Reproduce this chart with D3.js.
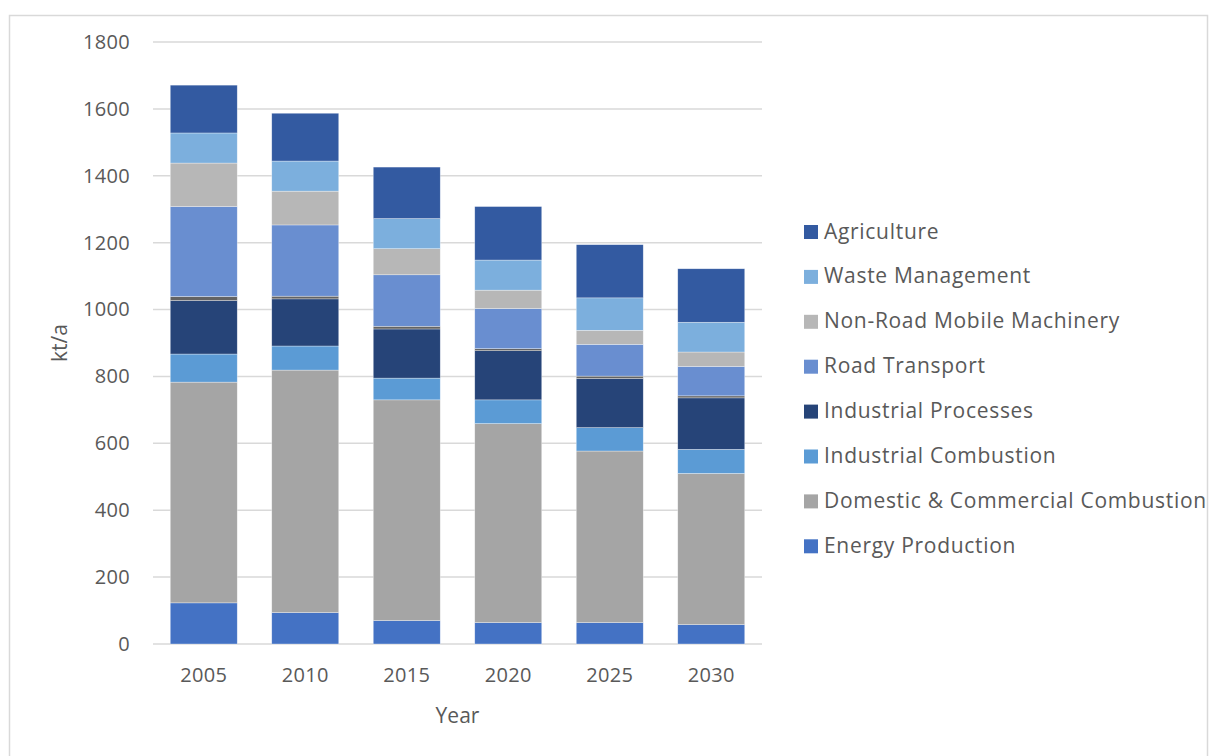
<!DOCTYPE html>
<html>
<head>
<meta charset="utf-8">
<script src="https://cdn.jsdelivr.net/npm/d3@7"></script>
<style>
  html, body { margin: 0; padding: 0; background: #fff; }
  svg { display: block; font-family: "Open Sans", "Liberation Sans", sans-serif; }
</style>
</head>
<body>
<svg id="chart" width="1209" height="756"></svg>
<script>
// Emissions by sector, kt/a
const years = ["2005", "2010", "2015", "2020", "2025", "2030"];

const energyProduction   = [123,  94,  70,  64,  64,  58];
const domesticCommercial = [660, 725, 660, 595, 513, 452];
const industrialCombust  = [ 84,  72,  65,  71,  70,  72];
const industrialProcess  = [160, 141, 147, 147, 147, 154];
const otherSources       = [ 12,   8,   8,   6,   7,   6];
const roadTransport      = [269, 213, 154, 120,  95,  88];
const nonRoadMachinery   = [130, 101,  78,  55,  42,  43];
const wasteManagement    = [ 90,  90,  90,  90,  97,  89];
const agriculture        = [143, 143, 154, 160, 159, 160];

const yTicks = [0, 200, 400, 600, 800, 1000, 1200, 1400, 1600, 1800];

// stacking order, bottom to top
const series = [
  { key: "Energy Production",                name: "energy",   values: energyProduction,   color: "#4472C4", legend: true },
  { key: "Domestic & Commercial Combustion", name: "domestic", values: domesticCommercial, color: "#A5A5A5", legend: true },
  { key: "Industrial Combustion",            name: "indcomb",  values: industrialCombust,  color: "#5B9BD5", legend: true },
  { key: "Industrial Processes",             name: "indproc",  values: industrialProcess,  color: "#264478", legend: true },
  { key: "Other",                            name: "other",    values: otherSources,       color: "#636363", legend: false },
  { key: "Road Transport",                   name: "road",     values: roadTransport,      color: "#698ED0", legend: true },
  { key: "Non-Road Mobile Machinery",        name: "nonroad",  values: nonRoadMachinery,   color: "#B7B7B7", legend: true },
  { key: "Waste Management",                 name: "waste",    values: wasteManagement,    color: "#7CAFDD", legend: true },
  { key: "Agriculture",                      name: "agri",     values: agriculture,        color: "#335AA1", legend: true }
];

const table = years.map((y, i) => {
  const row = { year: y };
  series.forEach(s => { row[s.name] = s.values[i]; });
  return row;
});

const svg = d3.select("#chart");
const textColor = "#595959";
const gridColor = "#D9D9D9";

// chart frame
svg.append("rect")
  .attr("x", 9.5).attr("y", 15.5)
  .attr("width", 1198).attr("height", 760)
  .attr("fill", "#fff")
  .attr("stroke", gridColor).attr("stroke-width", 1.5);

const plot = { left: 153, right: 762, top: 42, bottom: 644 };

const x = d3.scaleBand()
  .domain(years)
  .range([plot.left, plot.right])
  .paddingInner(0.34)
  .paddingOuter(0.17);

const y = d3.scaleLinear()
  .domain([0, 1800])
  .range([plot.bottom, plot.top]);

// gridlines
svg.append("g")
  .selectAll("line")
  .data(yTicks)
  .join("line")
  .attr("x1", plot.left).attr("x2", plot.right)
  .attr("y1", d => y(d)).attr("y2", d => y(d))
  .attr("stroke", gridColor).attr("stroke-width", 1.5);

// y axis labels
const yAxis = d3.axisLeft(y).tickValues(yTicks).tickFormat(d3.format("d")).tickSize(0).tickPadding(0);
const gy = svg.append("g")
  .attr("transform", `translate(${130},0)`)
  .call(yAxis);
gy.select(".domain").remove();
gy.selectAll("text")
  .attr("fill", textColor)
  .attr("font-size", 20)
  .attr("letter-spacing", 0.3)
  .attr("font-family", "Open Sans, sans-serif");

// stacked bars
const stack = d3.stack().keys(series.map(s => s.name));
const layers = stack(table);

svg.append("g")
  .selectAll("g")
  .data(layers)
  .join("g")
  .attr("fill", (d, i) => series[i].color)
  .selectAll("rect")
  .data(d => d)
  .join("rect")
  .attr("x", d => x(d.data.year))
  .attr("width", x.bandwidth())
  .attr("y", d => y(d[1]))
  .attr("height", d => y(d[0]) - y(d[1]))
  .attr("stroke", "#ffffff")
  .attr("stroke-opacity", 0.55)
  .attr("stroke-width", 0.6);

// x axis labels
const xAxis = d3.axisBottom(x).tickSize(0).tickPadding(0);
const gx = svg.append("g")
  .attr("transform", `translate(0,${plot.bottom + 24})`)
  .call(xAxis);
gx.select(".domain").remove();
gx.selectAll("text")
  .attr("fill", textColor)
  .attr("font-size", 20)
  .attr("letter-spacing", 0.3)
  .attr("font-family", "Open Sans, sans-serif");

// axis titles
svg.append("text")
  .attr("x", (plot.left + plot.right) / 2)
  .attr("y", 723)
  .attr("text-anchor", "middle")
  .attr("fill", textColor)
  .attr("font-size", 21)
  .text("Year");

svg.append("text")
  .attr("transform", `translate(67,${(plot.top + plot.bottom) / 2}) rotate(-90)`)
  .attr("text-anchor", "middle")
  .attr("fill", textColor)
  .attr("font-size", 21)
  .text("kt/a");

// legend, top-most series first
const legendItems = series.filter(s => s.legend).reverse();
const legend = svg.append("g").attr("transform", "translate(804,225)");
const item = legend.selectAll("g")
  .data(legendItems)
  .join("g")
  .attr("transform", (d, i) => `translate(0,${i * 44.9})`);
item.append("rect")
  .attr("width", 14).attr("height", 14)
  .attr("fill", d => d.color);
item.append("text")
  .attr("x", 20).attr("y", 13.5)
  .attr("fill", textColor)
  .attr("font-size", 21)
  .attr("letter-spacing", 0.7)
  .text(d => d.key);
</script>
</body>
</html>
